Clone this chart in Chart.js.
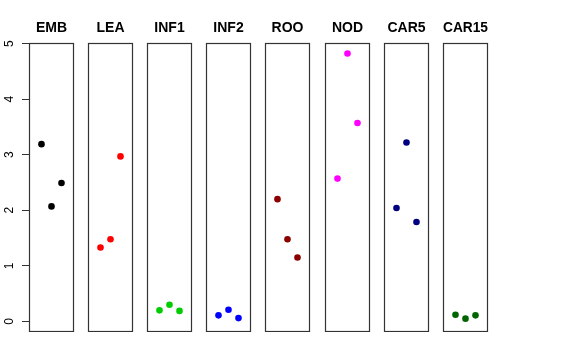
<!DOCTYPE html>
<html>
<head>
<meta charset="utf-8">
<script src="https://cdn.jsdelivr.net/npm/chart.js@4"></script>
<style>
  body { margin: 0; background: #fff; }
  #wrap { position: relative; width: 576px; height: 360px; overflow: hidden; }
  canvas { position: absolute; }
</style>
</head>
<body>
<div id="wrap"></div>
<script>
// panel names and colours
var groups = ['EMB', 'LEA', 'INF1', 'INF2', 'ROO', 'NOD', 'CAR5', 'CAR15'];
var colors = ['#000000', '#ff0000', '#00cd00', '#0000ff', '#8b0000', '#ff00ff', '#000080', '#006400'];

// three values per panel (left, middle, right)
var positions = [1, 2, 3];
var embVals = [3.19, 2.07, 2.49];
var leaVals = [1.33, 1.48, 2.97];
var inf1Vals = [0.20, 0.30, 0.19];
var inf2Vals = [0.11, 0.21, 0.06];
var rooVals = [2.20, 1.48, 1.15];
var nodVals = [2.57, 4.82, 3.57];
var car5Vals = [2.04, 3.22, 1.79];
var car15Vals = [0.12, 0.05, 0.11];
var yTicks = [0, 1, 2, 3, 4, 5];

var allVals = [embVals, leaVals, inf1Vals, inf2Vals, rooVals, nodVals, car5Vals, car15Vals];

var panelLeft = [29, 88, 147, 206, 265, 325, 384, 443];
var panelWidth = 45;
var top0 = 20;
var canvasH = 312;
var side = 7;
var axisW = 29;

// draws the box around each panel
var boxPlugin = {
    id: 'box',
    afterDraw: function (chart) {
        var a = chart.chartArea;
        var ctx = chart.ctx;
        ctx.save();
        ctx.strokeStyle = '#333';
        ctx.lineWidth = 1.2;
        ctx.strokeRect(Math.round(a.left) + 0.5, Math.round(a.top) + 0.5,
            Math.round(a.right - a.left) - 1, Math.round(a.bottom - a.top) - 1);
        ctx.restore();
    }
};

var wrap = document.getElementById('wrap');

groups.forEach(function (name, i) {
    var first = i === 0;
    var padL = first ? 0 : side;
    var cv = document.createElement('canvas');
    cv.width = panelWidth + side + (first ? axisW : side);
    cv.height = canvasH;
    cv.style.left = (first ? 0 : panelLeft[i] - side) + 'px';
    cv.style.top = top0 + 'px';
    wrap.appendChild(cv);

    var pts = positions.map(function (x, k) { return { x: x, y: allVals[i][k] }; });

    new Chart(cv.getContext('2d'), {
        type: 'scatter',
        data: {
            datasets: [{
                label: name,
                data: pts,
                backgroundColor: colors[i],
                borderColor: colors[i],
                pointRadius: 3.3,
                pointBorderWidth: 0
            }]
        },
        options: {
            responsive: false,
            animation: false,
            events: [],
            layout: {
                autoPadding: false,
                padding: { left: padL, right: side, top: 0, bottom: 0 }
            },
            plugins: {
                legend: { display: false },
                tooltip: { enabled: false }
            },
            scales: {
                x: {
                    type: 'linear',
                    position: 'top',
                    min: -0.25,
                    max: 4.25,
                    grid: { display: false, drawTicks: false },
                    border: { display: false },
                    ticks: { display: false },
                    title: {
                        display: true,
                        text: name,
                        color: '#000',
                        font: { family: 'Liberation Sans, Arial, sans-serif', size: 14, weight: 'bold', lineHeight: 1.2 },
                        padding: { top: 0, bottom: 6.2 }
                    }
                },
                y: {
                    type: 'linear',
                    min: -0.19,
                    max: 5.01,
                    display: first,
                    afterBuildTicks: function (scale) {
                        scale.ticks = yTicks.map(function (v) { return { value: v }; });
                    },
                    afterFit: function (scale) {
                        if (!first) return;
                        scale.width = axisW;
                        scale.paddingTop = 0;
                        scale.paddingBottom = 0;
                    },
                    grid: {
                        drawOnChartArea: false,
                        drawTicks: true,
                        tickLength: 7,
                        tickColor: '#333',
                        tickWidth: 1
                    },
                    border: { display: false },
                    ticks: {
                        color: '#000',
                        font: { family: 'Liberation Sans, Arial, sans-serif', size: 12 },
                        minRotation: 90,
                        maxRotation: 90,
                        crossAlign: 'center',
                        padding: 9
                    }
                }
            }
        },
        plugins: [boxPlugin]
    });
});
</script>
</body>
</html>
